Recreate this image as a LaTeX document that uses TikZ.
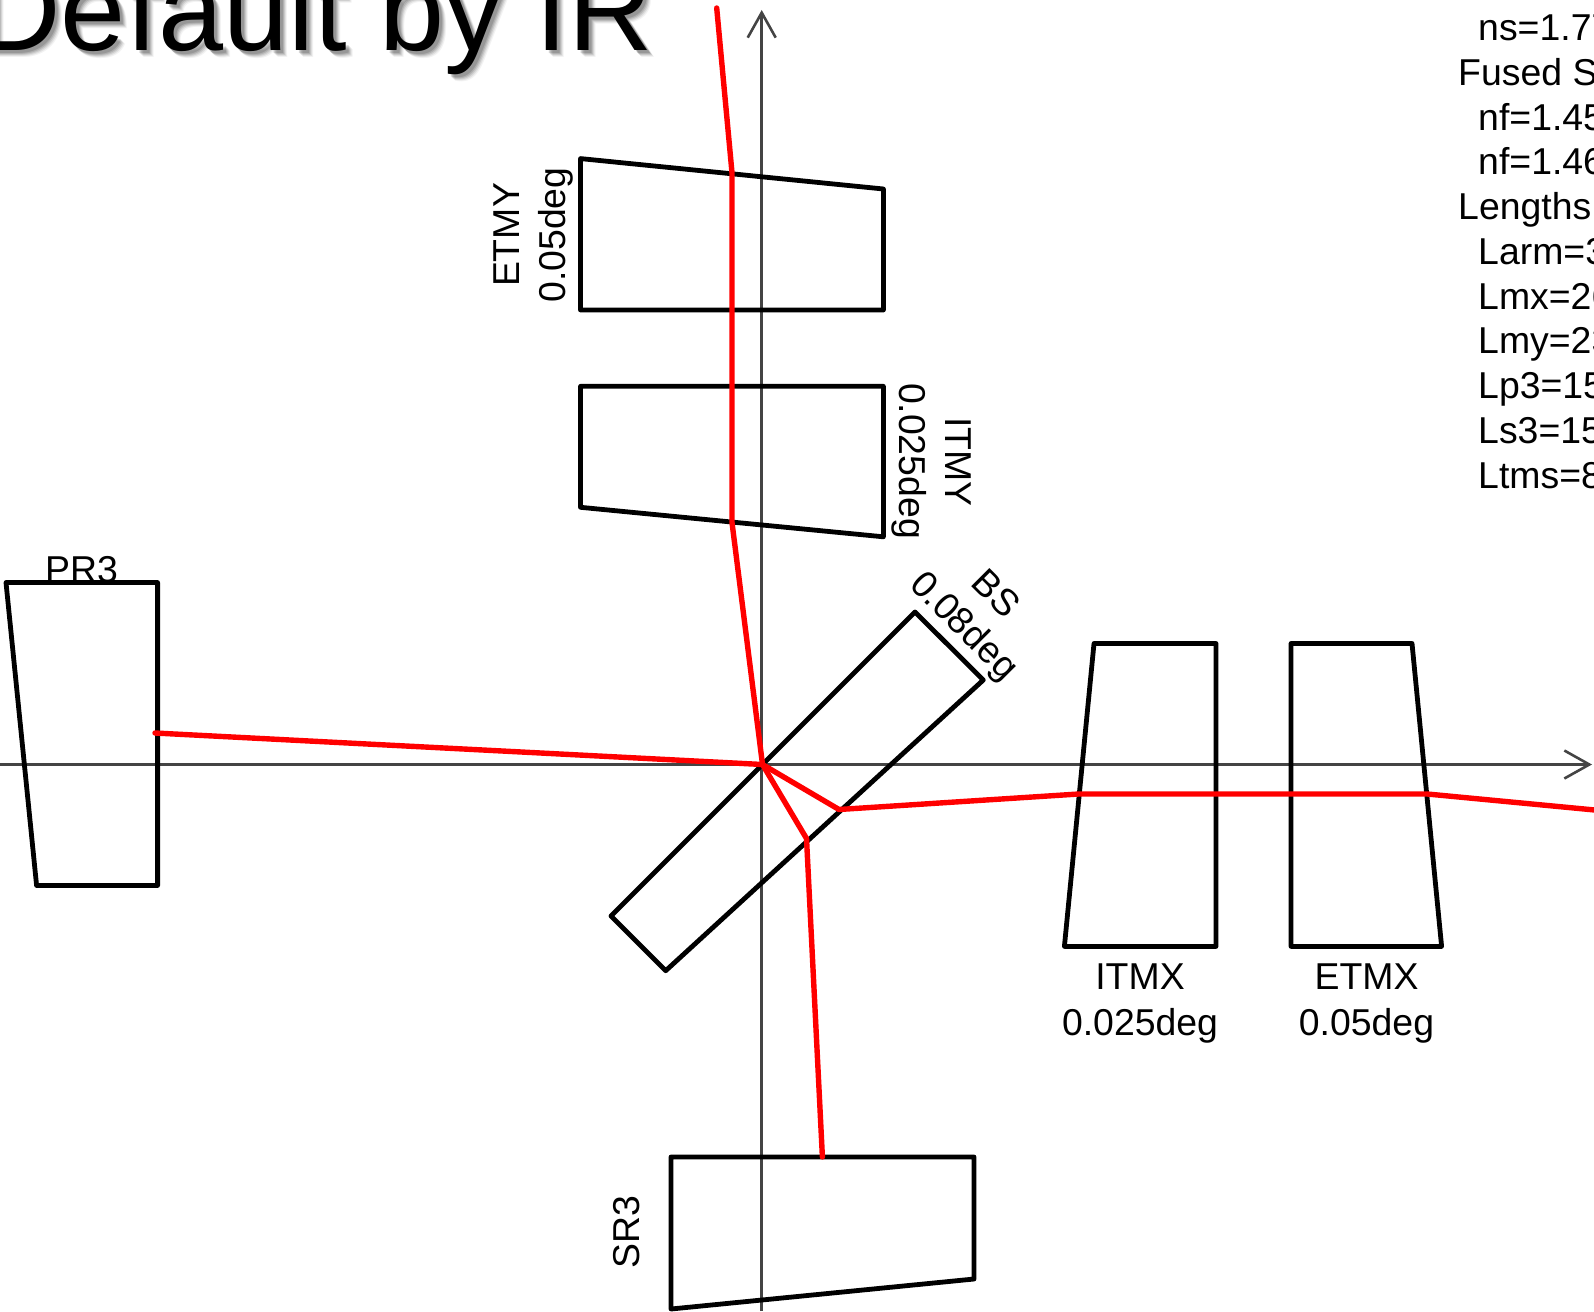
\documentclass[tikz,border=0pt]{standalone}
\usepackage{fontspec}
\setmainfont{Liberation Sans}
\usetikzlibrary{arrows.meta}
\definecolor{axisgray}{HTML}{444444}
\definecolor{rayred}{HTML}{FF0000}
\tikzset{
  axisline/.style={draw=axisgray,line width=2.6pt,-{Straight Barb[length=25pt,width=28pt,line width=2.6pt]}},
  mirror/.style={draw=black,line width=4.8pt,line join=round},
  ray/.style={draw=rayred,line width=5.4pt,line join=round,line cap=round},
  lab/.style={inner sep=0pt,anchor=base,font=\fontsize{37.4}{45}\selectfont},
  listlab/.style={inner sep=0pt,anchor=base west,font=\fontsize{37.4}{45}\selectfont},
  titlelab/.style={inner sep=0pt,anchor=base east,font=\fontsize{117}{130}\selectfont}
}
\begin{document}
\begin{tikzpicture}[x=1pt,y=-1pt]
\useasboundingbox (0,0) rectangle (1594,1311);
\clip (0,0) rectangle (1594,1311);
% title with soft shadow
\foreach \d/\o in {7/0.05,6/0.08,5/0.10,4/0.12,3/0.14}{
  \node[titlelab,text=black,opacity=\o] at (653+\d,51+\d) {Default by IR};
}
\node[titlelab] (title) at (653,51) {Default by IR};
% axes
\coordinate (xs) at (0,764.5);
\coordinate (xe) at (1592,764.5);
\coordinate (ys) at (761.7,1311);
\coordinate (ye) at (761.7,10);
\draw[axisline] (xs) -- (xe);
\draw[axisline] (ys) -- (ye);
% mirrors
\draw[mirror] (580.5,158.6) -- (883.4,189) -- (883.4,310) -- (580.5,310) -- cycle;
\draw[mirror] (580.5,386.3) -- (883.4,386.3) -- (883.4,536.8) -- (580.5,507.3) -- cycle;
\draw[mirror] (6,582.5) -- (157.6,582.5) -- (157.6,885.5) -- (36.6,885.5) -- cycle;
\draw[mirror] (1094,643.5) -- (1216,643.5) -- (1216,946.4) -- (1064.4,946.4) -- cycle;
\draw[mirror] (1291,643.5) -- (1412,643.5) -- (1441.6,946.4) -- (1291,946.4) -- cycle;
\draw[mirror] (671,1157) -- (974,1157) -- (974,1279) -- (671,1309) -- cycle;
\draw[mirror] (915,612) -- (983.3,680) -- (665.7,970.7) -- (611,916) -- cycle;
% ray
\coordinate (bs) at (762.5,764.5);
\coordinate (pr) at (155,733);
\coordinate (y0) at (716.7,8);
\coordinate (y1) at (732,172.8);
\coordinate (y2) at (732,522.5);
\coordinate (bx) at (839,809.5);
\coordinate (x1) at (1078.6,794);
\coordinate (x2) at (1427.3,794);
\coordinate (x3) at (1600,810.5);
\coordinate (bz) at (806.5,838.5);
\coordinate (sr) at (822.4,1157);
\draw[ray] (pr) -- (bs);
\draw[ray] (y0) -- (y1) -- (y2) -- (bs);
\draw[ray] (bs) -- (bx) -- (x1) -- (x2) -- (x3);
\draw[ray] (bs) -- (bz) -- (sr);
% labels
\node[lab,rotate=90] (letmy) at (519.5,235) {ETMY};
\node[lab,rotate=90] (letmyd) at (565,235) {0.05deg};
\node[lab,rotate=-90] (litmy) at (945,462) {ITMY};
\node[lab,rotate=-90] (litmyd) at (899,461) {0.025deg};
\node[lab] (lpr) at (81.5,582) {PR3};
\node[lab,rotate=-45] (lbs) at (987,602) {BS};
\node[lab,rotate=-45] (lbsd) at (956,634) {0.08deg};
\node[lab] (litmx) at (1140,989) {ITMX};
\node[lab] (litmxd) at (1140,1035) {0.025deg};
\node[lab] (letmx) at (1366.5,989) {ETMX};
\node[lab] (letmxd) at (1366.5,1035) {0.05deg};
\node[lab,rotate=90] (lsr) at (639.5,1232) {SR3};
% list, cut by the right edge
\node[listlab] (t1) at (1478,40.5) {ns=1.77};
\node[listlab] (t2) at (1458,85.2) {Fused S};
\node[listlab] (t3) at (1478,130) {nf=1.45};
\node[listlab] (t4) at (1478,174.7) {nf=1.46};
\node[listlab] (t5) at (1458,219.5) {Lengths};
\node[listlab] (t6) at (1478,264.2) {Larm=3};
\node[listlab] (t7) at (1478,309) {Lmx=26};
\node[listlab] (t8) at (1478,353.7) {Lmy=23};
\node[listlab] (t9) at (1478,398.5) {Lp3=15};
\node[listlab] (t10) at (1478,443.2) {Ls3=15};
\node[listlab] (t11) at (1478,488) {Ltms=8};
\end{tikzpicture}
\end{document}
